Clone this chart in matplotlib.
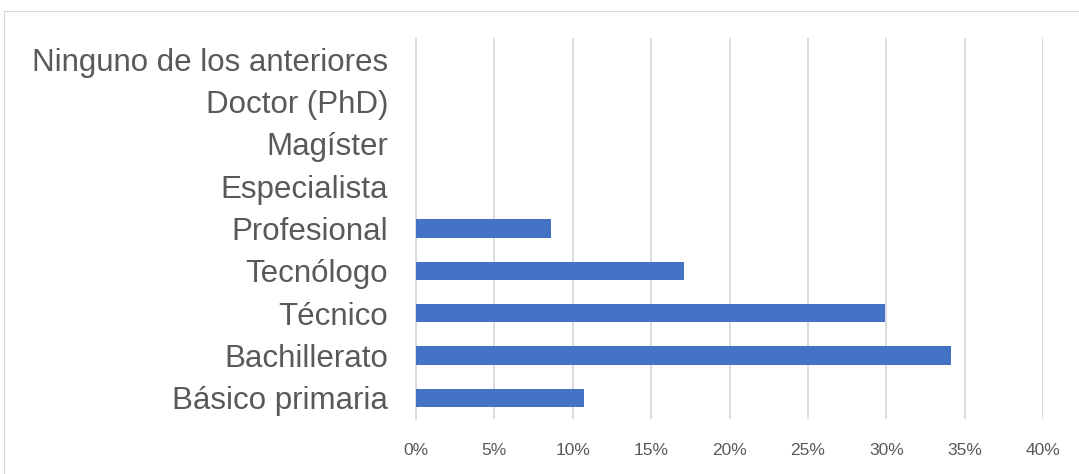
import matplotlib
matplotlib.use("Agg")
import matplotlib.pyplot as plt
from matplotlib.patches import Rectangle

categories = ["Básico primaria", "Bachillerato", "Técnico", "Tecnólogo", "Profesional",
              "Especialista", "Magíster", "Doctor (PhD)", "Ninguno de los anteriores"]
values = [10.7, 34.1, 29.9, 17.1, 8.6, 0, 0, 0, 0]
xticks = [0, 5, 10, 15, 20, 25, 30, 35, 40]
xticklabels = [f"{t}%" for t in xticks]

W, H = 1079, 474
fig = plt.figure(figsize=(W/100, H/100), dpi=100)
fig.patch.set_facecolor("white")

# chart-area border
fig.patches.append(Rectangle((4/W, -0.1), 1.2, (H-11)/H + 0.1, transform=fig.transFigure,
                             fill=False, edgecolor="#d9d9d9", linewidth=0.8))

ax = fig.add_axes([416/W, 1 - 419/H, (1043-416)/W, (419-38)/H])
y = list(range(len(categories)))
ax.barh(y, values, height=0.44, color="#4472c4", zorder=3)
ax.set_xlim(0, 40)
ax.set_ylim(-0.5, len(categories) - 0.5)
ax.set_xticks(xticks)
ax.set_xticklabels(xticklabels, fontsize=12.5, color="#595959", family="Liberation Sans")
ax.set_yticks(y)
ax.set_yticklabels(categories, fontsize=22.5, color="#595959", family="Liberation Sans")
ax.tick_params(axis="x", length=0, pad=17)
ax.tick_params(axis="y", length=0, pad=20)
ax.grid(axis="x", color="#d9d9d9", linewidth=1.3, zorder=0)
for s in ["top", "right", "bottom"]:
    ax.spines[s].set_visible(False)
ax.spines["left"].set_color("#d9d9d9")
ax.spines["left"].set_linewidth(1.3)

fig.savefig("out.png", dpi=100, facecolor="white")
